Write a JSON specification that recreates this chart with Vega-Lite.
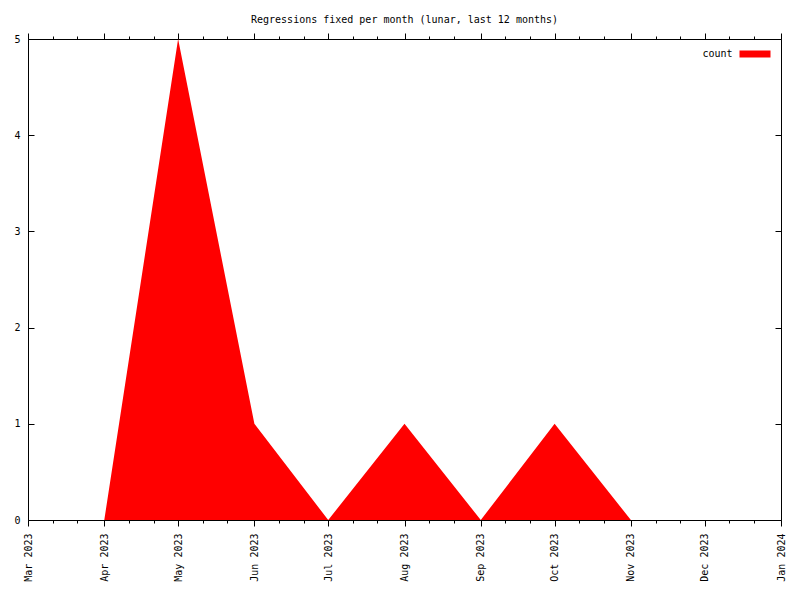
{
  "$schema": "https://vega.github.io/schema/vega-lite/v6.json",
  "width": 753,
  "height": 481,
  "autosize": "none",
  "padding": {"left": 28, "top": 39, "right": 19, "bottom": 80},
  "background": "white",
  "title": {
    "text": "Regressions fixed per month (lunar, last 12 months)",
    "font": "DejaVu Sans Mono",
    "fontSize": 10,
    "fontWeight": "normal",
    "color": "black",
    "anchor": "middle",
    "offset": 7.5
  },
  "config": {
    "view": {"stroke": "black", "strokeWidth": 1},
    "axis": {
      "domain": false,
      "grid": false,
      "title": null,
      "tickColor": "black",
      "tickWidth": 1,
      "labelColor": "black",
      "labelFont": "DejaVu Sans Mono",
      "labelFontSize": 10
    },
    "legend": {
      "orient": "top-right",
      "offset": 10,
      "padding": 0,
      "title": null,
      "symbolType": "M-3.1,-0.7L3.1,-0.7L3.1,0.7L-3.1,0.7Z",
      "symbolSize": 100,
      "symbolStrokeWidth": 0,
      "symbolOpacity": 1,
      "labelAlign": "right",
      "labelOffset": -27.5,
      "labelFont": "DejaVu Sans Mono",
      "labelFontSize": 10,
      "labelColor": "black"
    }
  },
  "data": {
    "values": [
      {"date": "2023-04-01", "count": 0},
      {"date": "2023-05-01", "count": 5},
      {"date": "2023-06-01", "count": 1},
      {"date": "2023-07-01", "count": 0},
      {"date": "2023-08-01", "count": 1},
      {"date": "2023-09-01", "count": 0},
      {"date": "2023-10-01", "count": 1},
      {"date": "2023-11-01", "count": 0}
    ]
  },
  "resolve": {"axis": {"x": "independent", "y": "independent"}},
  "layer": [
    {
      "mark": {"type": "area", "interpolate": "linear", "opacity": 1},
      "encoding": {
        "x": {
          "field": "date",
          "type": "temporal",
          "scale": {"type": "utc", "domain": [{"year": 2023, "month": 3, "date": 1, "utc": true}, {"year": 2024, "month": 1, "date": 1, "utc": true}]},
          "axis": {
            "orient": "bottom",
            "values": [
              {"year": 2023, "month": 3, "date": 1, "utc": true},
              {"year": 2023, "month": 4, "date": 1, "utc": true},
              {"year": 2023, "month": 5, "date": 1, "utc": true},
              {"year": 2023, "month": 6, "date": 1, "utc": true},
              {"year": 2023, "month": 7, "date": 1, "utc": true},
              {"year": 2023, "month": 8, "date": 1, "utc": true},
              {"year": 2023, "month": 9, "date": 1, "utc": true},
              {"year": 2023, "month": 10, "date": 1, "utc": true},
              {"year": 2023, "month": 11, "date": 1, "utc": true},
              {"year": 2023, "month": 12, "date": 1, "utc": true},
              {"year": 2024, "month": 1, "date": 1, "utc": true}
            ],
            "format": "%b %Y",
            "labelAngle": 270,
            "labelAlign": "right",
            "labelBaseline": "middle",
            "tickSize": 6,
            "labelPadding": 7,
            "labelOverlap": false,
            "labelFlush": false
          }
        },
        "y": {
          "field": "count",
          "type": "quantitative",
          "scale": {"domain": [0, 5], "nice": false, "zero": true},
          "axis": {"orient": "left", "values": [0, 1, 2, 3, 4, 5], "ticks": false, "labelPadding": 8}
        },
        "color": {
          "datum": "count",
          "scale": {"range": ["#ff0000"]},
          "legend": {}
        }
      }
    },
    {
      "mark": {"type": "point", "opacity": 0},
      "encoding": {
        "x": {
          "field": "date",
          "type": "temporal",
          "scale": {"type": "utc"},
          "axis": {
            "orient": "bottom",
            "labels": false,
            "tickSize": 3,
            "values": [
              {"year": 2023, "month": 3, "date": 11, "utc": true},
              {"year": 2023, "month": 3, "date": 21, "utc": true},
              {"year": 2023, "month": 4, "date": 11, "utc": true},
              {"year": 2023, "month": 4, "date": 21, "utc": true},
              {"year": 2023, "month": 5, "date": 11, "utc": true},
              {"year": 2023, "month": 5, "date": 21, "utc": true},
              {"year": 2023, "month": 6, "date": 11, "utc": true},
              {"year": 2023, "month": 6, "date": 21, "utc": true},
              {"year": 2023, "month": 7, "date": 11, "utc": true},
              {"year": 2023, "month": 7, "date": 21, "utc": true},
              {"year": 2023, "month": 8, "date": 11, "utc": true},
              {"year": 2023, "month": 8, "date": 21, "utc": true},
              {"year": 2023, "month": 9, "date": 11, "utc": true},
              {"year": 2023, "month": 9, "date": 21, "utc": true},
              {"year": 2023, "month": 10, "date": 11, "utc": true},
              {"year": 2023, "month": 10, "date": 21, "utc": true},
              {"year": 2023, "month": 11, "date": 11, "utc": true},
              {"year": 2023, "month": 11, "date": 21, "utc": true},
              {"year": 2023, "month": 12, "date": 11, "utc": true},
              {"year": 2023, "month": 12, "date": 21, "utc": true}
            ]
          }
        },
        "y": {
          "field": "count",
          "type": "quantitative",
          "axis": {"orient": "left", "labels": false, "tickSize": -6, "values": [0, 1, 2, 3, 4, 5]}
        }
      }
    },
    {
      "mark": {"type": "point", "opacity": 0},
      "encoding": {
        "x": {
          "field": "date",
          "type": "temporal",
          "scale": {"type": "utc"},
          "axis": {
            "orient": "top",
            "labels": false,
            "tickSize": 6,
            "values": [
              {"year": 2023, "month": 3, "date": 1, "utc": true},
              {"year": 2023, "month": 4, "date": 1, "utc": true},
              {"year": 2023, "month": 5, "date": 1, "utc": true},
              {"year": 2023, "month": 6, "date": 1, "utc": true},
              {"year": 2023, "month": 7, "date": 1, "utc": true},
              {"year": 2023, "month": 8, "date": 1, "utc": true},
              {"year": 2023, "month": 9, "date": 1, "utc": true},
              {"year": 2023, "month": 10, "date": 1, "utc": true},
              {"year": 2023, "month": 11, "date": 1, "utc": true},
              {"year": 2023, "month": 12, "date": 1, "utc": true},
              {"year": 2024, "month": 1, "date": 1, "utc": true}
            ]
          }
        },
        "y": {
          "field": "count",
          "type": "quantitative",
          "axis": {"orient": "right", "labels": false, "tickSize": -6, "values": [0, 1, 2, 3, 4, 5]}
        }
      }
    },
    {
      "mark": {"type": "point", "opacity": 0},
      "encoding": {
        "x": {
          "field": "date",
          "type": "temporal",
          "scale": {"type": "utc"},
          "axis": {
            "orient": "top",
            "labels": false,
            "tickSize": 3,
            "values": [
              {"year": 2023, "month": 3, "date": 11, "utc": true},
              {"year": 2023, "month": 3, "date": 21, "utc": true},
              {"year": 2023, "month": 4, "date": 11, "utc": true},
              {"year": 2023, "month": 4, "date": 21, "utc": true},
              {"year": 2023, "month": 5, "date": 11, "utc": true},
              {"year": 2023, "month": 5, "date": 21, "utc": true},
              {"year": 2023, "month": 6, "date": 11, "utc": true},
              {"year": 2023, "month": 6, "date": 21, "utc": true},
              {"year": 2023, "month": 7, "date": 11, "utc": true},
              {"year": 2023, "month": 7, "date": 21, "utc": true},
              {"year": 2023, "month": 8, "date": 11, "utc": true},
              {"year": 2023, "month": 8, "date": 21, "utc": true},
              {"year": 2023, "month": 9, "date": 11, "utc": true},
              {"year": 2023, "month": 9, "date": 21, "utc": true},
              {"year": 2023, "month": 10, "date": 11, "utc": true},
              {"year": 2023, "month": 10, "date": 21, "utc": true},
              {"year": 2023, "month": 11, "date": 11, "utc": true},
              {"year": 2023, "month": 11, "date": 21, "utc": true},
              {"year": 2023, "month": 12, "date": 11, "utc": true},
              {"year": 2023, "month": 12, "date": 21, "utc": true}
            ]
          }
        },
        "y": {
          "field": "count",
          "type": "quantitative",
          "axis": null
        }
      }
    }
  ]
}
